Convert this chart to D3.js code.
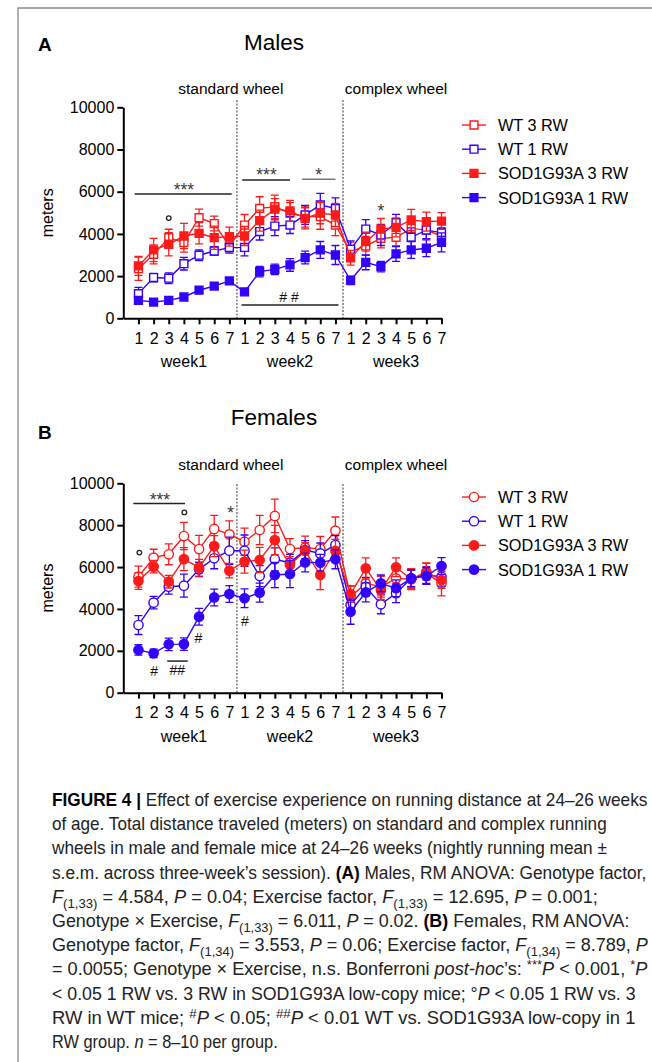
<!DOCTYPE html>
<html><head><meta charset="utf-8">
<script src="https://cdn.jsdelivr.net/npm/d3@7"></script>
<style>
body { margin: 0; background: #fff; }
text { font-family: "Liberation Sans", Arial, sans-serif; }
</style>
</head><body>
<svg width="652" height="1062"></svg>
<script>
// ---- data ----
const days = d3.range(21);
const dayLabels = ["1", "2", "3", "4", "5", "6", "7"];
const weekLabels = ["week1", "week2", "week3"];
const seriesNames = ["WT 3 RW", "WT 1 RW", "SOD1G93A 3 RW", "SOD1G93A 1 RW"];
const yTicks = [0, 2000, 4000, 6000, 8000, 10000];

// males
const wt3A  = [2350, 3030, 3820, 3590, 4770, 4490, 3430, 4420, 5210, 5290, 4980, 4820, 4820, 4420, 3160, 3430, 3790, 3840, 4260, 4180, 3900];
const wt1A  = [1170, 1930, 1900, 2590, 2990, 3190, 3350, 3360, 4110, 4370, 4420, 4900, 5370, 5210, 3270, 4230, 3950, 4530, 3840, 4180, 4060];
const sod3A = [2480, 3240, 3510, 3900, 4030, 3820, 3870, 3900, 4630, 5170, 5090, 4740, 4980, 4900, 2870, 3630, 4230, 4310, 4660, 4580, 4610];
const sod1A = [850, 770, 850, 1010, 1330, 1530, 1770, 1250, 2210, 2320, 2530, 2880, 3240, 3000, 1800, 2650, 2450, 3050, 3240, 3320, 3600];
const wt3A_e  = [550, 450, 400, 450, 400, 350, 350, 500, 550, 550, 500, 500, 600, 500, 450, 450, 450, 400, 400, 400, 400];
const wt1A_e  = [300, 200, 250, 300, 250, 200, 200, 400, 400, 450, 400, 450, 550, 500, 400, 450, 500, 400, 450, 400, 400];
const sod3A_e = [450, 550, 550, 600, 500, 550, 450, 450, 500, 500, 500, 500, 500, 550, 350, 450, 500, 450, 500, 450, 400];
const sod1A_e = [150, 100, 100, 100, 100, 100, 150, 100, 250, 250, 300, 300, 400, 450, 200, 350, 250, 350, 400, 400, 450];

// females
const wt3B  = [5540, 6450, 6610, 7480, 6860, 7820, 7560, 7210, 7770, 8440, 6860, 6930, 6860, 7740, 4590, 5220, 5060, 5460, 5420, 5700, 5220];
const wt1B  = [3230, 4300, 5060, 5110, 5890, 6420, 6780, 6780, 5570, 6370, 6210, 6810, 6650, 7050, 4190, 5060, 4220, 4750, 5460, 5620, 5540];
const sod3B = [5330, 6020, 5300, 6380, 5970, 7000, 5830, 6260, 6340, 7290, 6100, 6770, 5620, 6770, 4710, 5940, 4900, 5990, 5420, 5780, 5380];
const sod1B = [2040, 1880, 2310, 2320, 3630, 4550, 4710, 4510, 4780, 5620, 5670, 6220, 6210, 6370, 3870, 4790, 5220, 4990, 5460, 5570, 6050];
const wt3B_e  = [500, 400, 500, 650, 650, 650, 650, 650, 700, 800, 500, 550, 600, 650, 500, 550, 500, 500, 500, 500, 600];
const wt1B_e  = [450, 300, 350, 550, 350, 500, 650, 750, 500, 550, 400, 450, 500, 450, 450, 450, 450, 450, 400, 400, 450];
const sod3B_e = [400, 300, 300, 550, 400, 500, 350, 550, 600, 700, 400, 400, 700, 550, 400, 500, 450, 450, 450, 400, 400];
const sod1B_e = [250, 200, 300, 300, 400, 400, 400, 450, 450, 600, 650, 450, 400, 450, 600, 450, 400, 400, 400, 400, 400];

// significance marks: [from day, to day, level] / [day, level, label]
const barsA  = [[-0.25, 6.15, 5890, "#222"], [6.85, 10.0, 6550, "#222"], [10.8, 13.0, 6590, "#777"], [6.8, 13.2, 630, "#222"]];
const starsA = [[3, 6290, "***"], [8.45, 6980, "***"], [11.9, 6980, "*"], [16, 5290, "*"]];
const hashA  = [[9.94, 1010, "# #"]];
const ringsA = [[2, 4750]];
const barsB  = [[-0.34, 3.07, 9040, "#222"], [1.9, 3.25, 1510, "#222"]];
const starsB = [[1.42, 9390, "***"], [6.09, 8760, "*"]];
const hashB  = [[1.03, 1040, "#"], [2.56, 1080, "##"], [3.95, 2600, "#"], [7.03, 3440, "#"]];
const ringsB = [[0.06, 6690], [3.03, 8610]];

const RED = "#ff1a1a", BLUE = "#3300ff";
const svg = d3.select("svg");

// frame
svg.append("path").attr("d", "M18,1062V8H652").attr("fill", "none").attr("stroke", "#8a8a8a").attr("stroke-width", 1.3);

function drawPanel(p) {
    const x = d3.scaleLinear().domain([-1, 20]).range([123.3, 441.5]);
    const y = d3.scaleLinear().domain([0, 10000]).range([p.y0, p.y1]);
    const g = svg.append("g");

    g.append("text").attr("x", 38).attr("y", p.letterY).attr("font-size", 19).attr("font-weight", "bold").text(p.letter);
    g.append("text").attr("x", 274).attr("y", p.titleY).attr("font-size", 22.5).attr("text-anchor", "middle").text(p.title);
    g.append("text").attr("x", x(6.1)).attr("y", p.wheelY).attr("font-size", 15.5).attr("text-anchor", "middle").text("standard wheel");
    g.append("text").attr("x", x(17)).attr("y", p.wheelY).attr("font-size", 15.5).attr("text-anchor", "middle").text("complex wheel");

    [6.5, 13.5].forEach(d => g.append("line")
        .attr("x1", x(d)).attr("x2", x(d)).attr("y1", p.dashTop).attr("y2", p.y0)
        .attr("stroke", "#333").attr("stroke-width", 1).attr("stroke-dasharray", "2,1.5"));

    // axes
    const ya = g.append("g").attr("transform", `translate(${x(-1)},0)`)
        .call(d3.axisLeft(y).tickValues(yTicks).tickFormat(d3.format("d")).tickSize(6).tickSizeOuter(0).tickPadding(3));
    const xa = g.append("g").attr("transform", `translate(0,${p.y0})`)
        .call(d3.axisBottom(x).tickValues(days).tickFormat(i => dayLabels[i % 7]).tickSize(6).tickSizeOuter(0).tickPadding(8));
    [ya, xa].forEach(a => {
        a.selectAll("path,line").attr("stroke", "#000").attr("stroke-width", 2);
        a.selectAll("text").attr("font-size", 16).attr("fill", "#000").attr("font-family", '"Liberation Sans", Arial, sans-serif');
    });
    weekLabels.forEach((w, i) => g.append("text").attr("x", x(3 + 7 * i)).attr("y", p.y0 + 49)
        .attr("font-size", 16).attr("text-anchor", "middle").text(w));
    g.append("text").attr("transform", `translate(53,${y(5000)}) rotate(-90)`)
        .attr("font-size", 16).attr("text-anchor", "middle").text("meters");

    // series
    const line = d3.line().x((d, i) => x(i)).y(d => y(d));
    p.series.forEach(s => {
        const sg = g.append("g");
        sg.append("path").attr("d", line(s.vals)).attr("fill", "none").attr("stroke", s.color).attr("stroke-width", 1.4);
        sg.selectAll("path.err").data(s.vals).join("path").attr("class", "err")
            .attr("d", (d, i) => {
                const xx = x(i), t = y(d + s.err[i]), b = y(d - s.err[i]);
                return `M${xx - 4},${t}H${xx + 4}M${xx},${t}V${b}M${xx - 4},${b}H${xx + 4}`;
            })
            .attr("fill", "none").attr("stroke", s.color).attr("stroke-width", 1.3);
        const sym = d3.symbol().type(p.shape).size(p.shape === d3.symbolSquare ? 62 : 68);
        sg.selectAll("path.pt").data(s.vals).join("path").attr("class", "pt")
            .attr("transform", (d, i) => `translate(${x(i)},${y(d)})`)
            .attr("d", sym)
            .attr("fill", s.open ? "#fff" : s.color)
            .attr("stroke", s.color).attr("stroke-width", 1.4);
    });

    // significance marks
    p.bars.forEach(b => g.append("line").attr("x1", x(b[0])).attr("x2", x(b[1]))
        .attr("y1", y(b[2])).attr("y2", y(b[2])).attr("stroke", b[3]).attr("stroke-width", 1.5));
    p.stars.forEach(s => g.append("text").attr("x", x(s[0])).attr("y", y(s[1]) + 10)
        .attr("font-size", 17.5).attr("fill", "#3a3a3a").attr("text-anchor", "middle").text(s[2]));
    p.hashes.forEach(s => g.append("text").attr("x", x(s[0])).attr("y", y(s[1]) + 5)
        .attr("font-size", 14).attr("fill", "#111").attr("text-anchor", "middle").text(s[2]));
    p.rings.forEach(r => g.append("circle").attr("cx", x(r[0])).attr("cy", y(r[1])).attr("r", 2.3)
        .attr("fill", "none").attr("stroke", "#222").attr("stroke-width", 1.3));

    // legend
    p.series.forEach((s, i) => {
        const ly = p.legendY + i * 24.2;
        g.append("line").attr("x1", 462).attr("x2", 486).attr("y1", ly).attr("y2", ly).attr("stroke", s.color).attr("stroke-width", 1.4);
        g.append("path").attr("transform", `translate(474,${ly})`)
            .attr("d", d3.symbol().type(p.shape).size(p.shape === d3.symbolSquare ? 62 : 68))
            .attr("fill", s.open ? "#fff" : s.color).attr("stroke", s.color).attr("stroke-width", 1.4);
        g.append("text").attr("x", 498).attr("y", ly + 6).attr("font-size", 16.3).text(seriesNames[i]);
    });
}

const mk = (vals, err, color, open) => ({ vals, err, color, open });

drawPanel({
    letter: "A", letterY: 51, title: "Males", titleY: 50, wheelY: 94,
    y0: 318.3, y1: 107.3, dashTop: 100, legendY: 125, shape: d3.symbolSquare,
    series: [mk(wt3A, wt3A_e, RED, true), mk(wt1A, wt1A_e, BLUE, true), mk(sod3A, sod3A_e, RED, false), mk(sod1A, sod1A_e, BLUE, false)],
    bars: barsA, stars: starsA, hashes: hashA, rings: ringsA
});
drawPanel({
    letter: "B", letterY: 439, title: "Females", titleY: 425, wheelY: 470,
    y0: 692.7, y1: 483.3, dashTop: 484, legendY: 497, shape: d3.symbolCircle,
    series: [mk(wt3B, wt3B_e, RED, true), mk(wt1B, wt1B_e, BLUE, true), mk(sod3B, sod3B_e, RED, false), mk(sod1B, sod1B_e, BLUE, false)],
    bars: barsB, stars: starsB, hashes: hashB, rings: ringsB
});

// ---- caption ----
const captionLines = [
    [["FIGURE 4 | ", "b"], ["Effect of exercise experience on running distance at 24–26 weeks"]],
    [["of age. Total distance traveled (meters) on standard and complex running"]],
    [["wheels in male and female mice at 24–26 weeks (nightly running mean ±"]],
    [["s.e.m. across three-week’s session). "], ["(A)", "b"], [" Males, RM ANOVA: Genotype factor,"]],
    [["F", "i"], ["(1,33)", "sub"], [" = 4.584, "], ["P", "i"], [" = 0.04; Exercise factor, "], ["F", "i"], ["(1,33)", "sub"], [" = 12.695, "], ["P", "i"], [" = 0.001;"]],
    [["Genotype × Exercise, "], ["F", "i"], ["(1,33)", "sub"], [" = 6.011, "], ["P", "i"], [" = 0.02. "], ["(B)", "b"], [" Females, RM ANOVA:"]],
    [["Genotype factor, "], ["F", "i"], ["(1,34)", "sub"], [" = 3.553, "], ["P", "i"], [" = 0.06; Exercise factor, "], ["F", "i"], ["(1,34)", "sub"], [" = 8.789, "], ["P", "i"]],
    [["= 0.0055; Genotype × Exercise, n.s. Bonferroni "], ["post-hoc", "i"], ["’s: "], ["***", "sup"], ["P", "i"], [" < 0.001, "], ["*", "sup"], ["P", "i"]],
    [["< 0.05 1 RW vs. 3 RW in SOD1G93A low-copy mice; °"], ["P", "i"], [" < 0.05 1 RW vs. 3"]],
    [["RW in WT mice; "], ["#", "sup"], ["P", "i"], [" < 0.05; "], ["##", "sup"], ["P", "i"], [" < 0.01 WT vs. SOD1G93A low-copy in 1"]],
    [["RW group. "], ["n", "i"], [" = 8–10 per group."]]
];
const captionEnds = [648, 607, 607, 647, 598, 630, 648, 648, 636, 636, 278];

captionLines.forEach((segs, li) => {
    const t = svg.append("text").attr("x", 52).attr("y", 806 + li * 24.2)
        .attr("font-size", 18).attr("fill", "#222");
    let shift = 0;
    segs.forEach(([str, st]) => {
        const ts = t.append("tspan").text(str);
        const want = st === "sub" ? 5 : st === "sup" ? -6 : 0;
        if (want !== shift) { ts.attr("dy", want - shift); shift = want; }
        if (st === "b") ts.attr("font-weight", "bold").attr("fill", "#000");
        if (st === "i") ts.attr("font-style", "italic");
        if (st === "sub" || st === "sup") ts.attr("font-size", 13);
    });
    const w = t.node().getComputedTextLength();
    const k = (captionEnds[li] - 52) / w;
    t.attr("transform", `translate(52,0) scale(${k},1) translate(-52,0)`);
});
</script>
</body></html>
